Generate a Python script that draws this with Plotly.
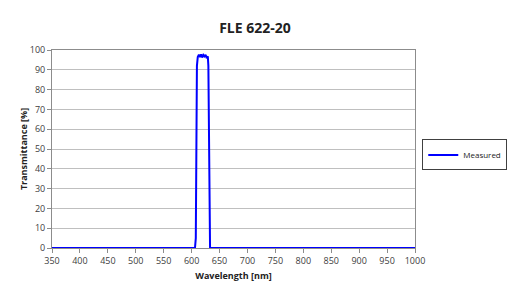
import plotly.graph_objects as go

wavelength = [350, 606, 607.5, 608.5, 609.5, 611, 613, 615, 617, 619, 621, 623, 625, 627, 629, 630, 631, 632, 633, 1000]
transmittance = [0, 0, 5, 45, 92, 96.5, 97.6, 96.4, 97.8, 96.2, 97.5, 96.8, 97.6, 95.8, 96.8, 92, 45, 4, 0, 0]
x_ticks = list(range(350, 1001, 50))
y_ticks = list(range(0, 101, 10))

font_family = "Open Sans, Liberation Sans, sans-serif"

fig = go.Figure()
fig.add_trace(go.Scatter(
    x=wavelength, y=transmittance, mode="lines", name="Measured",
    line=dict(color="#0000ff", width=2),
))

fig.update_layout(
    width=510, height=300,
    margin=dict(l=52, r=95, t=50, b=52, autoexpand=False),
    paper_bgcolor="white", plot_bgcolor="white",
    title=dict(text="<b>FLE 622-20</b>", x=0.5, xanchor="center", y=0.905, yanchor="middle",
               font=dict(family=font_family, size=14, color="#222222")),
    font=dict(family=font_family, size=9, color="#404040"),
    showlegend=True,
    legend=dict(x=1.02, y=0.47, xanchor="left", yanchor="middle",
                bordercolor="#404040", borderwidth=1, bgcolor="white",
                font=dict(size=8, color="#222222"), itemwidth=30,
                tracegroupgap=0),
    xaxis=dict(
        range=[350, 1000], tickvals=x_ticks, showgrid=False, zeroline=False,
        showline=True, linecolor="#8c8c8c", linewidth=1, mirror=True,
        ticks="outside", ticklen=4, tickcolor="#8c8c8c",
        tickfont=dict(size=9, color="#404040"),
        title=dict(text="<b>Wavelength [nm]</b>", font=dict(size=9, color="#222222"), standoff=6),
    ),
    yaxis=dict(
        range=[0, 100], tickvals=y_ticks, showgrid=True, gridcolor="#bfbfbf", gridwidth=1,
        zeroline=False, showline=True, linecolor="#8c8c8c", linewidth=1, mirror=True,
        ticks="outside", ticklen=4, tickcolor="#8c8c8c",
        tickfont=dict(size=9, color="#404040"),
        title=dict(text="<b>Transmittance [%]</b>", font=dict(size=9, color="#222222"), standoff=0),
    ),
)

fig.write_html("out.html")
